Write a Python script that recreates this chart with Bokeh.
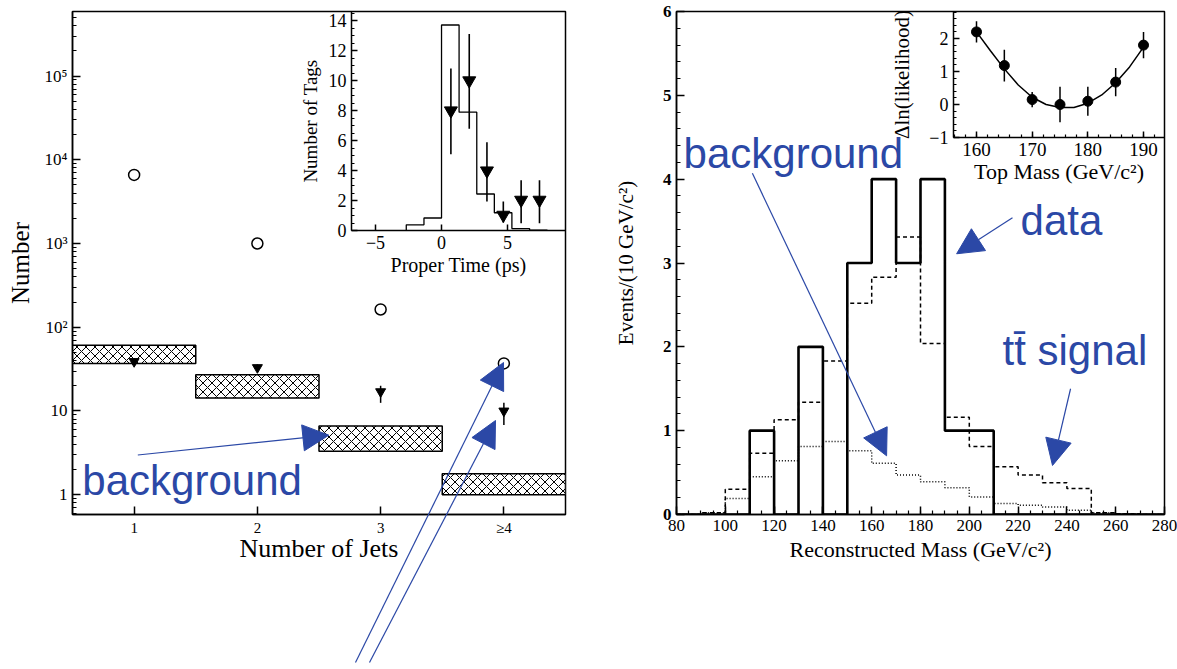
from bokeh.plotting import figure
from bokeh.layouts import row, column
from bokeh.models import (Range1d, LinearAxis, LinearScale, FixedTicker,
                          SingleIntervalTicker, Arrow, NormalHead, Label)
from bokeh.embed import file_html
from bokeh.resources import INLINE

SERIF = "Liberation Serif"
SANS = "Liberation Sans"
BLUE = "#2B48A6"

# ---------------- left panel: number of jets ----------------
n_jets = [1, 2, 3, 4]
jet_tick_labels = ["1", "2", "3", "≥4"]
pretag_events = [6600, 1000, 163, 37]
tagged_events = [39, 33, 17, 10]
tagged_low = [36, 30, 12.5, 6.8]
tagged_high = [43, 36, 20, 12.5]
bkg_low = [37, 14.3, 3.3, 1.0]
bkg_high = [61, 27, 6.6, 1.78]
log_ticks = [1, 10, 100, 1000, 10000, 100000]
log_tick_labels = ["1", "10", "10²", "10³", "10⁴", "10⁵"]

# left inset: proper time
time_edges = [-2.67, -1.33, 0.0, 1.33, 2.67, 4.0, 5.33, 6.67, 8.0]
time_counts = [0.4, 0.85, 13.7, 7.9, 2.45, 1.2, 0.15, 0.05]
tag_time = [0.71, 2.1, 3.44, 4.68, 6.03, 7.42]
tag_count = [8.0, 10.0, 4.0, 1.05, 2.05, 2.05]
tag_low = [5.1, 6.8, 1.95, 0.55, 0.5, 0.5]
tag_high = [10.8, 13.1, 5.9, 1.95, 3.36, 3.36]
time_ticks = [-5, 0, 5]

# ---------------- right panel: reconstructed mass ----------------
mass_edges = [80, 90, 100, 110, 120, 130, 140, 150, 160, 170, 180,
              190, 200, 210, 220, 230, 240, 250, 260, 270, 280]
data_events = [0, 0, 0, 1, 0, 2, 0, 3, 4, 3, 4, 1, 1, 0, 0, 0, 0, 0, 0, 0]
signal_plus_bkg = [0, 0.02, 0.30, 0.73, 1.13, 1.34, 1.83, 2.52, 2.83, 3.31,
                   2.04, 1.16, 0.81, 0.57, 0.47, 0.38, 0.31, 0.02, 0.01, 0]
background = [0, 0.02, 0.19, 0.45, 0.64, 0.81, 0.87, 0.76, 0.61, 0.47,
              0.39, 0.32, 0.21, 0.13, 0.11, 0.09, 0.05, 0.02, 0.01, 0]

# right inset: likelihood
top_mass = [160, 165, 170, 175, 180, 185, 190]
dlnl = [2.2, 1.18, 0.15, 0.0, 0.1, 0.68, 1.8]
dlnl_err = [0.32, 0.48, 0.23, 0.54, 0.44, 0.43, 0.4]
fit_mass = [160, 162.5, 165, 167.5, 170, 172.5, 175, 177.5, 180, 182.5, 185, 187.5, 190]
fit_dlnl = [2.2, 1.63, 1.08, 0.59, 0.22, 0.0, -0.09, -0.09, 0.04, 0.29, 0.66, 1.14, 1.74]


def outline(edges, vals):
    xs, ys = [edges[0]], [0.0]
    for i, v in enumerate(vals):
        xs += [edges[i], edges[i + 1]]
        ys += [v, v]
    xs.append(edges[-1])
    ys.append(0.0)
    return xs, ys


def style_axis(ax, tick_size, label_size, bold=False, tick_in=8, minor_in=4):
    ax.axis_line_color = "black"
    ax.axis_line_width = 1.5
    ax.major_tick_in = tick_in
    ax.major_tick_out = 0
    ax.minor_tick_in = minor_in
    ax.minor_tick_out = 0
    ax.major_tick_line_color = "black"
    ax.minor_tick_line_color = "black"
    ax.major_tick_line_width = 1.5
    ax.minor_tick_line_width = 1.2
    ax.major_label_text_font = SERIF
    ax.major_label_text_font_size = tick_size
    ax.major_label_text_color = "black"
    ax.major_label_text_font_style = "bold" if bold else "normal"
    ax.axis_label_text_font = SERIF
    ax.axis_label_text_font_size = label_size
    ax.axis_label_text_font_style = "normal"
    ax.axis_label_text_color = "black"


def blue_label(p, x, y, text):
    p.add_layout(Label(x=x, y=y, text=text, text_font=SANS, text_font_size="42px",
                       text_color=BLUE, text_baseline="alphabetic", text_align="left"))


def blue_arrow(p, xs, ys, xe, ye):
    p.add_layout(Arrow(end=NormalHead(size=26, fill_color=BLUE, line_color=BLUE),
                       x_start=xs, y_start=ys, x_end=xe, y_end=ye,
                       line_color=BLUE, line_width=1.2))


# ======================= LEFT FIGURE =======================
p1 = figure(width=600, height=669, x_range=Range1d(0.5, 4.5), y_range=Range1d(0.58, 5.9e5),
            y_axis_type="log", output_backend="svg", toolbar_location=None,
            min_border_left=72, min_border_right=35, min_border_top=10, min_border_bottom=152,
            extra_x_ranges={"ix": Range1d(-27.95, 9.39)},
            extra_y_ranges={"iy": Range1d(-18.89, 14.6)},
            extra_y_scales={"iy": LinearScale()})
p1.grid.visible = False
p1.outline_line_color = "black"
p1.outline_line_width = 1.5
p1.background_fill_color = "white"
p1.border_fill_color = "white"

p1.xaxis.ticker = FixedTicker(ticks=n_jets)
p1.xaxis.major_label_overrides = dict(zip(n_jets, jet_tick_labels))
p1.xaxis.axis_label = "Number of Jets"
minor_log = [m * 10 ** k for k in range(-1, 6) for m in range(2, 10)]
p1.yaxis.ticker = FixedTicker(ticks=log_ticks, minor_ticks=minor_log)
p1.yaxis.major_label_overrides = {float(t): l for t, l in zip(log_ticks, log_tick_labels)}
p1.yaxis.axis_label = "Number"
style_axis(p1.xaxis[0], "15px", "26px")
style_axis(p1.yaxis[0], "17px", "25px")
p1.yaxis.axis_label_standoff = 8
p1.xaxis.axis_label_standoff = -5

p1.quad(left=[j - 0.5 for j in n_jets], right=[j + 0.5 for j in n_jets],
        bottom=bkg_low, top=bkg_high, fill_color="white", line_color="black", line_width=1.5,
        hatch_pattern="diagonal_cross", hatch_color="black", hatch_scale=9, hatch_weight=1)
p1.scatter(n_jets, pretag_events, marker="circle", size=11, fill_color="white",
           line_color="black", line_width=1.5)
p1.segment(n_jets, tagged_low, n_jets, tagged_high, line_color="black", line_width=1.5)
p1.scatter(n_jets, tagged_events, marker="inverted_triangle", size=10, color="black")

# inset
xs, ys = outline(time_edges, time_counts)
p1.line(xs, ys, x_range_name="ix", y_range_name="iy", line_color="black", line_width=1.3)
p1.segment(tag_time, tag_low, tag_time, tag_high, x_range_name="ix", y_range_name="iy",
           line_color="black", line_width=1.6)
p1.scatter(tag_time, tag_count, x_range_name="ix", y_range_name="iy",
           marker="inverted_triangle", size=13, color="black")

ix_ax = LinearAxis(x_range_name="ix", y_range_name="iy", fixed_location=0,
                   bounds=(-6.82, 9.39), ticker=FixedTicker(ticks=time_ticks),
                   axis_label="Proper Time (ps)")
style_axis(ix_ax, "18px", "20px", tick_in=6)
ix_ax.axis_label_standoff = 2
p1.add_layout(ix_ax, "below")
iy_ax = LinearAxis(x_range_name="ix", y_range_name="iy", fixed_location=-6.82,
                   bounds=(0, 14.6), ticker=SingleIntervalTicker(interval=2, num_minor_ticks=4),
                   axis_label="Number of Tags")
style_axis(iy_ax, "18px", "19px", tick_in=6, minor_in=3)
p1.add_layout(iy_ax, "left")

# annotation inside the left frame
blue_label(p1, 0.58, 1.46, "background")
blue_arrow(p1, 1.03, 2.98, 2.58, 5.14)

# ======================= RIGHT FIGURE =======================
p2 = figure(width=577, height=669, x_range=Range1d(80, 280), y_range=Range1d(0, 6),
            output_backend="svg", toolbar_location=None,
            min_border_left=76, min_border_right=13, min_border_top=11, min_border_bottom=155,
            extra_x_ranges={"ix": Range1d(106.11, 193.77)},
            extra_y_ranges={"iy": Range1d(-12.42, 2.818)})
p2.grid.visible = False
p2.outline_line_color = "black"
p2.outline_line_width = 1.5
p2.xaxis.ticker = SingleIntervalTicker(interval=20, num_minor_ticks=4)
p2.yaxis.ticker = SingleIntervalTicker(interval=1, num_minor_ticks=5)
p2.xaxis.axis_label = "Reconstructed Mass (GeV/c²)"
p2.yaxis.axis_label = "Events/(10 GeV/c²)"
style_axis(p2.xaxis[0], "17px", "22px")
style_axis(p2.yaxis[0], "17px", "21px", bold=True)
p2.yaxis.axis_label_standoff = 22
p2.xaxis.axis_label_standoff = 3

xs, ys = outline(mass_edges, background)
p2.line(xs, ys, line_color="black", line_width=1.5, line_dash="1 2")
xs, ys = outline(mass_edges, signal_plus_bkg)
p2.line(xs, ys, line_color="black", line_width=1.5, line_dash="4 3")
xs, ys = outline(mass_edges, data_events)
p2.line(xs, ys, line_color="black", line_width=2.6)

# inset
p2.line(fit_mass, fit_dlnl, x_range_name="ix", y_range_name="iy", line_color="black", line_width=1.5)
p2.segment(top_mass, [v - e for v, e in zip(dlnl, dlnl_err)], top_mass,
           [v + e for v, e in zip(dlnl, dlnl_err)], x_range_name="ix", y_range_name="iy",
           line_color="black", line_width=1.5)
p2.scatter(top_mass, dlnl, x_range_name="ix", y_range_name="iy", marker="circle",
           size=10, color="black")
mx_ax = LinearAxis(x_range_name="ix", y_range_name="iy", fixed_location=-1,
                   bounds=(155.87, 193.77), ticker=SingleIntervalTicker(interval=10, num_minor_ticks=5),
                   axis_label="Top Mass (GeV/c²)")
style_axis(mx_ax, "19px", "22px", tick_in=6, minor_in=3)
mx_ax.axis_label_standoff = 0
p2.add_layout(mx_ax, "below")
my_ax = LinearAxis(x_range_name="ix", y_range_name="iy", fixed_location=155.87,
                   bounds=(-1, 2.818), ticker=SingleIntervalTicker(interval=1, num_minor_ticks=5),
                   axis_label="Δln(likelihood)")
style_axis(my_ax, "18px", "21px", tick_in=6, minor_in=3)
my_ax.axis_label_standoff = 12
p2.add_layout(my_ax, "left")

blue_label(p2, 82.9, 4.31, "background")
blue_arrow(p2, 111.1, 4.07, 166.1, 0.70)
blue_label(p2, 221.0, 3.51, "data")
blue_arrow(p2, 217.7, 3.54, 194.8, 3.11)
blue_label(p2, 213.6, 1.96, "tt\u0304 signal")
blue_arrow(p2, 241.5, 1.50, 234.1, 0.585)

# ======================= OVERLAY (arrows leaving the left frame) =======================
ov = figure(width=1177, height=669, x_range=Range1d(0, 1177), y_range=Range1d(669, 0),
            output_backend="svg", toolbar_location=None, min_border=0,
            x_axis_location=None, y_axis_location=None)
ov.grid.visible = False
ov.outline_line_color = None
ov.background_fill_alpha = 0
ov.border_fill_alpha = 0
ov.margin = (-669, 0, 0, 0)
blue_arrow(ov, 355, 662, 503, 362)
blue_arrow(ov, 369, 662, 495, 420)

layout = column(row(p1, p2), ov)
open("out.html", "w").write(file_html(layout, INLINE))
